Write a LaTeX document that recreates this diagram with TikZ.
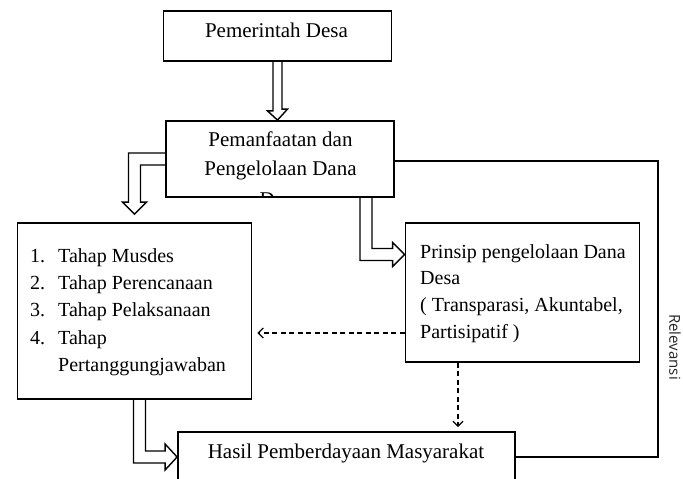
\documentclass[tikz,border=0pt]{standalone}
\usepackage{fontspec}
\setmainfont{Liberation Serif}
\newfontfamily\relfont{Open Sans}
\usetikzlibrary{arrows.meta,calc}
\newcommand\ttlfont{\fontsize{21}{28.3}\selectfont}
\newcommand\listfont{\fontsize{20}{27.4}\selectfont}
\newcommand\prinfont{\fontsize{20}{26.7}\selectfont}
\tikzset{
  box/.style={draw=black, line width=1.8pt, inner sep=0pt},
  txt/.style={inner sep=0pt, text=black},
  blk/.style={draw=black, line width=1.4pt, line join=miter},
  dsh/.style={line width=1.3pt, dash pattern=on 5pt off 3.5pt,
    -{Straight Barb[length=5pt,width=10pt,line width=1.3pt]}},
  rel/.style={line width=1.2pt}
}
\begin{document}
\begin{tikzpicture}[x=1pt,y=-1pt]
\clip (0,0) rectangle (683,479);
\fill[white] (0,0) rectangle (683,479);
% boxes
\node[box, minimum width=228, minimum height=50] (gov) at (277.5,36) {};
\node[box, minimum width=228, minimum height=76] (pem) at (280,159) {};
\node[box, minimum width=234, minimum height=176] (list) at (134.5,311) {};
\node[box, minimum width=234, minimum height=139] (prin) at (522.5,292.5) {};
\node[box, minimum width=337, minimum height=50] (hasil) at (346.5,457) {};
% texts (multi-line nodes: base = last line)
\node[txt, anchor=base, font=\ttlfont] (govt) at (276.5,37.5) {Pemerintah Desa};
\begin{scope}
\clip ($(pem.north west)+(1,1)$) rectangle ($(pem.south east)+(-1,-1)$);
\node[txt, anchor=base, align=center, font=\ttlfont] (pemt) at (280.5,206)
  {Pemanfaatan dan\\Pengelolaan Dana\\[2.7pt]Desa};
\end{scope}
\node[txt, anchor=base west, align=left, font=\listfont] (listt) at (30,371.7)
  {\makebox[28pt][l]{1.}Tahap Musdes\\
   \makebox[28pt][l]{2.}Tahap Perencanaan\\
   \makebox[28pt][l]{3.}Tahap Pelaksanaan\\
   \makebox[28pt][l]{4.}Tahap\\
   \hspace*{28pt}Pertanggungjawaban};
\node[txt, anchor=base west, align=left, font=\prinfont] (print) at (420,338.3)
  {Prinsip pengelolaan Dana\\Desa\\( Transparasi, Akuntabel,\\Partisipatif )};
\node[txt, anchor=base, font=\ttlfont] (hasilt) at (346,458) {Hasil Pemberdayaan Masyarakat};
% block arrows
\draw[blk] ([xshift=-4.5pt]gov.south) -- ++(0,49) -- ++(-5.5,0)
  -- (gov.south |- pem.north) -- ++(10,-11) -- ++(-5.5,0) -- ([xshift=4.5pt]gov.south);
\draw[blk] ([yshift=6pt]pem.west) -| ([xshift=-6pt,yshift=20pt]list.north) -- ++(-6,0)
  -- ([yshift=8pt]list.north) -- ++(12,-12) -- ++(-6,0) |- ([yshift=-6pt]pem.west);
\draw[blk] ([xshift=80pt]pem.south) |- ([xshift=-12pt,yshift=32pt]prin.west) -- ++(0,6)
  -- ([yshift=38pt]prin.west) -- ++(-12,-12) -- ++(0,6) -| ([xshift=92pt]pem.south);
\draw[blk] ([xshift=-1pt]list.south) |- ([xshift=-12pt,yshift=-6pt]hasil.west) -- ++(0,7)
  -- (hasil.west) -- ++(-12,-13) -- ++(0,7) -| ([xshift=11pt]list.south);
% dashed arrows
\coordinate (d1) at ([yshift=-40.5pt]prin.west);
\coordinate (d1e) at ([xshift=5pt]list.east);
\draw[dsh] (d1) -- (d1e |- d1);
\coordinate (d2) at ([xshift=-64.5pt]prin.south);
\coordinate (d2e) at ([yshift=4pt]hasil.north);
\draw[dsh] (d2) -- (d2 |- d2e);
% relevansi
\draw[rel] ([yshift=-2pt]pem.east) -| ([xshift=142pt]hasil.east) -- (hasil.east);
\node[txt, rotate=-90, font=\relfont\fontsize{15}{18}\selectfont, text=black!85] (relt) at (675,347) {Relevansi};
\end{tikzpicture}
\end{document}
